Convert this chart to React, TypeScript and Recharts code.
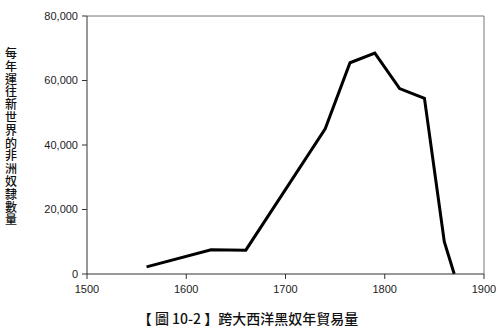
import { LineChart, Line, XAxis, YAxis, ReferenceLine } from 'recharts';

// years and annual slave exports
const years = [1560, 1625, 1660, 1740, 1765, 1790, 1815, 1840, 1860, 1870];
const slaves = [2200, 7500, 7400, 45000, 65500, 68500, 57500, 54500, 10000, 0];
const xTicks = [1500, 1600, 1700, 1800, 1900];
const yTicks = [0, 20000, 40000, 60000, 80000];

const yLabel = '每年運往新世界的非洲奴隸數量';
const title = '【 圖 10-2 】跨大西洋黑奴年貿易量';

const data = years.map((year, i) => ({ year, value: slaves[i] }));

const font = 'Liberation Sans, Arial, sans-serif';
const cjk = '"Noto Sans CJK TC", "Noto Sans CJK SC", sans-serif';

export default function App() {
  return (
    <div style={{ position: 'fixed', top: 0, left: 0, width: 500, height: 328, background: '#fff' }}>
      <LineChart width={500} height={328} data={data} margin={{ top: 16, right: 16, left: 0, bottom: 24 }}>
        <ReferenceLine y={80000} stroke="#777" strokeWidth={1} />
        <ReferenceLine x={1900} stroke="#777" strokeWidth={1} />
        <XAxis
          type="number"
          dataKey="year"
          domain={[1500, 1900]}
          ticks={xTicks}
          height={30}
          stroke="#333"
          tickSize={5}
          tickMargin={6}
          tick={{ fill: '#222', fontSize: 11, fontFamily: font }}
        />
        <YAxis
          type="number"
          domain={[0, 80000]}
          ticks={yTicks}
          width={87}
          stroke="#333"
          tickSize={5}
          tickMargin={4}
          tick={{ fill: '#222', fontSize: 11, fontFamily: font }}
          tickFormatter={(v: number) => v.toLocaleString('en-US')}
        />
        <Line
          type="linear"
          dataKey="value"
          stroke="#000"
          strokeWidth={3}
          dot={false}
          isAnimationActive={false}
        />
      </LineChart>
      <svg
        width={24}
        height={200}
        style={{ position: 'absolute', left: 0, top: 40 }}
      >
        {Array.from(yLabel).map((ch, i) => (
          <text
            key={i}
            x={11}
            y={18 + i * 12.8}
            textAnchor="middle"
            fontFamily={cjk}
            fontSize={12}
            fontWeight={500}
            fill="#111"
          >
            {ch}
          </text>
        ))}
      </svg>
      <div
        style={{
          position: 'absolute',
          left: 0,
          width: 496,
          top: 308,
          textAlign: 'center',
          fontFamily: cjk,
          fontSize: 14,
          fontWeight: 500,
          lineHeight: '20px',
          color: '#111',
        }}
      >
        {title}
      </div>
    </div>
  );
}
